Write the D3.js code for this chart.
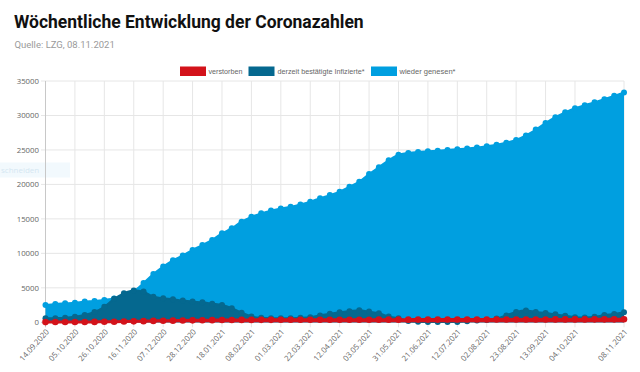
<!DOCTYPE html>
<html>
<head>
<meta charset="utf-8">
<script src="https://cdn.jsdelivr.net/npm/d3@7"></script>
<style>
  html, body { margin: 0; padding: 0; background: #fff; }
  svg { display: block; }
</style>
</head>
<body>
<div id="chart"></div>
<script>
// ---- Data ----
const dates = [
  "14.09.2020","21.09.2020","28.09.2020","05.10.2020","12.10.2020","19.10.2020","26.10.2020",
  "02.11.2020","09.11.2020","16.11.2020","23.11.2020","30.11.2020","07.12.2020","14.12.2020",
  "21.12.2020","28.12.2020","04.01.2021","11.01.2021","18.01.2021","25.01.2021","01.02.2021",
  "08.02.2021","15.02.2021","22.02.2021","01.03.2021","08.03.2021","15.03.2021","22.03.2021",
  "29.03.2021","05.04.2021","12.04.2021","19.04.2021","26.04.2021","03.05.2021","10.05.2021",
  "17.05.2021","31.05.2021","07.06.2021","14.06.2021","21.06.2021","28.06.2021","05.07.2021",
  "12.07.2021","19.07.2021","26.07.2021","02.08.2021","09.08.2021","16.08.2021","23.08.2021",
  "30.08.2021","06.09.2021","13.09.2021","20.09.2021","27.09.2021","04.10.2021","11.10.2021",
  "18.10.2021","25.10.2021","01.11.2021","08.11.2021"
];
const shownTickIndex = [0,3,6,9,12,15,18,21,24,27,30,33,36,39,42,45,48,51,54,59];

const verstorben = [
  30,35,40,45,50,60,70,90,110,140,170,200,220,240,260,280,300,315,325,335,
  345,350,355,358,360,362,365,368,370,372,374,376,378,380,382,384,386,388,390,392,
  394,396,398,400,402,404,406,408,410,412,414,416,418,420,422,424,426,428,430,432
];
const infizierte = [
  580,600,650,800,1050,1500,2250,3400,4200,4600,4450,3700,3500,3350,3150,3000,2900,2700,2500,2050,
  1400,850,650,580,580,600,650,750,1000,1250,1450,1600,1750,1550,1300,850,580,200,80,40,
  30,30,60,150,250,350,550,1000,1500,1700,1500,1350,1150,950,750,700,800,1050,1200,1450
];
const genesen = [
  2500,2650,2750,2850,3000,3100,3250,3450,3900,4500,5700,7000,8100,9000,9700,10500,11200,11950,12900,13650,
  14600,15300,15800,16200,16500,16750,17100,17500,18000,18450,18950,19650,20400,21500,22500,23500,24300,24550,24700,24800,
  24900,25000,25100,25200,25350,25550,25750,26050,26450,27100,27950,28900,29750,30450,31050,31500,31900,32350,32850,33350
];
const yTicks = [0,5000,10000,15000,20000,25000,30000,35000];

const seriesNames = ["verstorben","derzeit bestätigte Infizierte*","wieder genesen*"];
const seriesColors = ["#d3121a","#05688f","#009fe0"];

// ---- Layout ----
const W = 640, H = 372;
const svg = d3.select("#chart").append("svg").attr("width", W).attr("height", H);

const x = d3.scalePoint().domain(d3.range(dates.length)).range([45.5, 624]);
const y = d3.scaleLinear().domain([0, 35000]).range([322.3, 81]);

// title
svg.append("text").attr("x", 14).attr("y", 28)
  .attr("font-family", "Roboto, 'Liberation Sans', sans-serif")
  .attr("font-weight", 700).attr("font-size", 17.5).attr("fill", "#111")
  .text("Wöchentliche Entwicklung der Coronazahlen");
svg.append("text").attr("x", 14.5).attr("y", 48)
  .attr("font-family", "Roboto, 'Liberation Sans', sans-serif")
  .attr("font-size", 9.5).attr("fill", "#9a9a9a")
  .text("Quelle: LZG, 08.11.2021");

// faint artifact box at left
svg.append("rect").attr("x", 0).attr("y", 162.5).attr("width", 70).attr("height", 15)
  .attr("fill", "#f2f9fd");
svg.append("text").attr("x", 1).attr("y", 173)
  .attr("font-family", "'Open Sans', sans-serif").attr("font-size", 8)
  .attr("fill", "#d5e7f2").text("schneiden");

// grid
const grid = svg.append("g");
grid.selectAll("line.h").data(yTicks).join("line")
  .attr("x1", 41).attr("x2", 624)
  .attr("y1", d => y(d)).attr("y2", d => y(d))
  .attr("stroke", d => d === 0 ? "#c8c8c8" : "#e6e6e6").attr("stroke-width", 1);
grid.selectAll("line.v").data(shownTickIndex).join("line")
  .attr("x1", i => x(i)).attr("x2", i => x(i))
  .attr("y1", y(35000)).attr("y2", y(0) + 5)
  .attr("stroke", (i) => i === 0 ? "#c8c8c8" : "#e6e6e6").attr("stroke-width", 1);

// y labels
svg.append("g").selectAll("text").data(yTicks).join("text")
  .attr("x", 39).attr("y", d => y(d) + 3)
  .attr("text-anchor", "end")
  .attr("font-family", "'Open Sans', 'Liberation Sans', sans-serif")
  .attr("font-size", 7.8).attr("fill", "#666")
  .text(d => d);

// x labels
svg.append("g").selectAll("text").data(shownTickIndex).join("text")
  .attr("transform", i => `translate(${x(i) + 2},${y(0) + 8}) rotate(-48)`)
  .attr("text-anchor", "end")
  .attr("dy", "0.35em")
  .attr("font-family", "'Open Sans', 'Liberation Sans', sans-serif")
  .attr("font-size", 7.8).attr("fill", "#666")
  .text(i => dates[i]);

// series (draw back-to-front: genesen, infizierte, verstorben)
const seriesData = [verstorben, infizierte, genesen];
const curve = d3.curveMonotoneX;
for (let s = 2; s >= 0; s--) {
  const vals = seriesData[s];
  const col = seriesColors[s];
  const g = svg.append("g");
  g.append("path").datum(vals)
    .attr("fill", col)
    .attr("d", d3.area().x((d, i) => x(i)).y0(y(0)).y1(d => y(d)).curve(curve));
  g.append("path").datum(vals)
    .attr("fill", "none").attr("stroke", col).attr("stroke-width", s === 0 ? 3 : 2)
    .attr("d", d3.line().x((d, i) => x(i)).y(d => y(d)).curve(curve));
  g.selectAll("circle").data(vals).join("circle")
    .attr("cx", (d, i) => x(i)).attr("cy", d => y(d))
    .attr("r", s === 0 ? 3.3 : 3).attr("fill", col);
}

// legend
const legendItems = [
  {name: seriesNames[0], color: seriesColors[0], bx: 180, tx: 208.5, w: 34},
  {name: seriesNames[1], color: seriesColors[1], bx: 248.5, tx: 277.5, w: 87},
  {name: seriesNames[2], color: seriesColors[2], bx: 371, tx: 399.5, w: 56}
];
const lg = svg.append("g");
legendItems.forEach(it => {
  lg.append("rect").attr("x", it.bx).attr("y", 66.5).attr("width", 26).attr("height", 9.5)
    .attr("fill", it.color);
  lg.append("text").attr("x", it.tx).attr("y", 74.3)
    .attr("font-family", "'Liberation Sans', Arial, sans-serif")
    .attr("font-size", 7.6).attr("fill", "#666")
    .attr("textLength", it.w).attr("lengthAdjust", "spacingAndGlyphs")
    .text(it.name);
});
</script>
</body>
</html>
